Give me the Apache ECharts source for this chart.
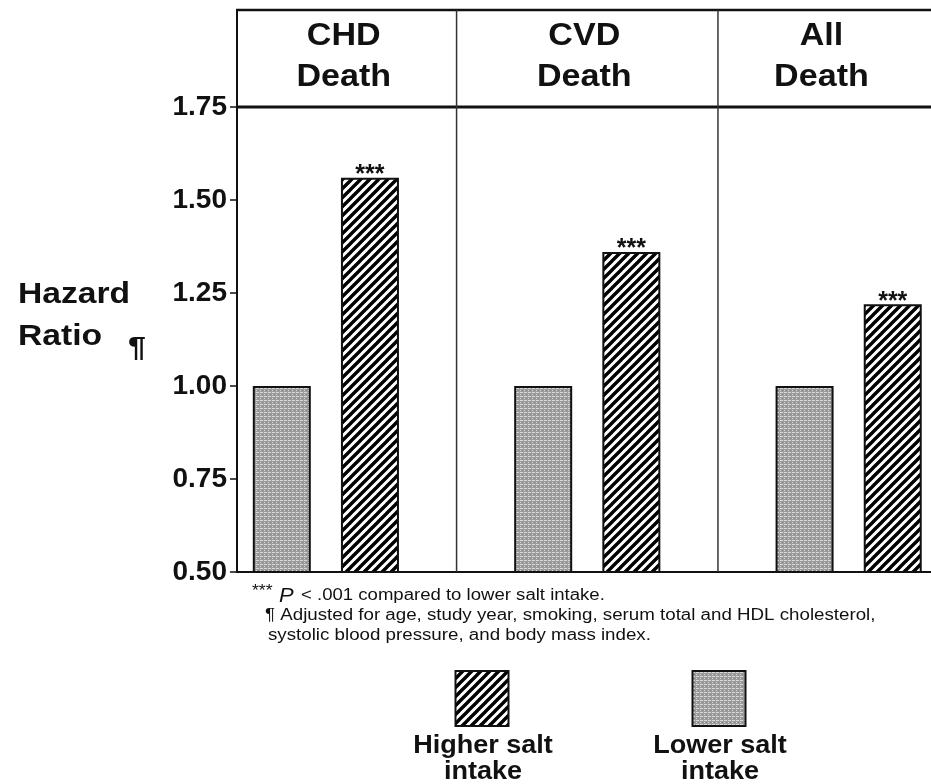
<!DOCTYPE html>
<html>
<head>
<meta charset="utf-8">
<script src="https://cdn.jsdelivr.net/npm/echarts@6/dist/echarts.min.js"></script>
<style>
  html, body { margin: 0; padding: 0; background: #fff; }
  #chart { width: 931px; height: 784px; }
</style>
</head>
<body>
<div id="chart"></div>
<script>
// ---- data ----
const categories = ['CHD\nDeath', 'CVD\nDeath', 'All\nDeath'];
const lowerSalt = [1.00, 1.00, 1.00];
const higherSalt = [1.56, 1.36, 1.22];
const significance = ['***', '***', '***'];
const yMin = 0.50, yMax = 1.75, yStep = 0.25;
const seriesNames = ['Lower salt intake', 'Higher salt intake'];
const legendLabels = ['Lower salt\nintake', 'Higher salt\nintake'];
const footnotes = [
  '< .001 compared to lower salt intake.',
  '\u00b6 Adjusted for age, study year, smoking, serum total and HDL cholesterol,',
  'systolic blood pressure, and body mass index.'
];

// ---- fill patterns ----
function hatchCanvas(period, lw) {
  const c = document.createElement('canvas');
  c.width = c.height = period;
  const g = c.getContext('2d');
  g.fillStyle = '#fff';
  g.fillRect(0, 0, period, period);
  g.strokeStyle = '#000';
  g.lineWidth = lw;
  g.beginPath();
  for (const o of [-period, 0, period]) {
    g.moveTo(o - 1, period + 1);
    g.lineTo(o + period + 1, -1);
  }
  g.stroke();
  return c;
}
function stippleCanvas() {
  const c = document.createElement('canvas');
  c.width = 4; c.height = 4;
  const g = c.getContext('2d');
  g.fillStyle = '#9c9c9c';
  g.fillRect(0, 0, 4, 4);
  g.fillStyle = '#d6d6d6';
  g.fillRect(0, 0, 3, 1);
  g.fillRect(0, 2, 1, 1);
  g.fillStyle = '#828282';
  g.fillRect(2, 2, 1, 1);
  return c;
}
const hatchFill = { image: hatchCanvas(9, 3.4), repeat: 'repeat' };
const stippleFill = { image: stippleCanvas(), repeat: 'repeat' };

const FONT = '"Liberation Sans", Arial, sans-serif';
const INK = '#111';

// groups sit at x = 0, 1, 2 on a numeric base axis; panels split at the midpoints
const xMin = -0.34, xMax = 2.315;
const panelSplits = [0.5, 1.5];

const chart = echarts.init(document.getElementById('chart'), null, { renderer: 'canvas' });

const option = {
  animation: false,
  backgroundColor: '#fff',
  grid: { left: 237, top: 107, width: 698, height: 465, containLabel: false },
  xAxis: {
    type: 'value',
    min: xMin,
    max: xMax,
    axisLine: { show: true, onZero: false, lineStyle: { color: INK, width: 2 } },
    axisTick: { show: false },
    axisLabel: { show: false },
    splitLine: { show: false }
  },
  yAxis: {
    type: 'value',
    min: yMin,
    max: yMax,
    interval: yStep,
    axisLine: { show: true, onZero: false, lineStyle: { color: INK, width: 2 } },
    axisTick: { show: true, length: 7, lineStyle: { color: INK, width: 1.5 } },
    axisLabel: {
      margin: 10,
      formatter: v => v.toFixed(2),
      fontFamily: FONT,
      fontWeight: 'bold',
      fontSize: 28,
      color: INK
    },
    splitLine: { show: false }
  },
  series: [
    {
      name: seriesNames[0],
      type: 'bar',
      data: lowerSalt.map((v, i) => [i, v]),
      barWidth: 58,
      barGap: '52%',
      itemStyle: { color: stippleFill, borderColor: INK, borderWidth: 2 },
      emphasis: { disabled: true }
    },
    {
      name: seriesNames[1],
      type: 'bar',
      data: higherSalt.map((v, i) => [i, v]),
      barWidth: 58,
      barGap: '52%',
      itemStyle: { color: hatchFill, borderColor: INK, borderWidth: 2 },
      emphasis: { disabled: true },
      label: {
        show: true,
        position: 'top',
        distance: 0,
        offset: [0, 10],
        formatter: p => significance[p.dataIndex],
        fontFamily: FONT,
        fontWeight: 'bold',
        fontSize: 25,
        color: INK
      }
    }
  ]
};
chart.setOption(option);

// ---- panel frame, axis title, footnotes and key ----
const px = v => chart.convertToPixel({ xAxisIndex: 0 }, v);
const py = v => chart.convertToPixel({ yAxisIndex: 0 }, v);
const left = px(xMin);
const right = px(xMax);
const headTop = 10;
const headBottom = py(yMax);
const bottom = py(yMin);
const edges = [left].concat(panelSplits.map(px), [right]);

const g = [];
const line = (x1, y1, x2, y2, w, c) => g.push({
  type: 'line', silent: true, z: 10,
  shape: { x1, y1, x2, y2 },
  style: { stroke: c || INK, lineWidth: w }
});
const text = (t, x, y, o) => g.push({
  type: 'text', silent: true, z: 10,
  x, y, scaleX: o.scaleX || 1,
  style: {
    text: t, x: 0, y: 0,
    textAlign: o.align || 'left',
    textVerticalAlign: 'middle',
    font: (o.style || 'normal') + ' ' + (o.weight || 'normal') + ' ' + o.size + 'px ' + FONT,
    fill: INK
  }
});

// header box and panel dividers
line(left - 1, headTop, right + 10, headTop, 2.5);
line(left - 1, headBottom, right + 10, headBottom, 3);
line(left, headTop, left, headBottom, 2);
panelSplits.forEach(s => line(px(s), headTop, px(s), bottom, 1.5, '#333'));
categories.forEach((c, i) => {
  const cx = (edges[i] + edges[i + 1]) / 2 - 3;
  const parts = c.split('\n');
  text(parts[0], cx, 36, { align: 'center', weight: 'bold', size: 31, scaleX: 1.1 });
  text(parts[1], cx, 77, { align: 'center', weight: 'bold', size: 31, scaleX: 1.1 });
});

// axis title
text('Hazard', 18, 295, { weight: 'bold', size: 29, scaleX: 1.16 });
text('Ratio', 18, 337, { weight: 'bold', size: 29, scaleX: 1.16 });
text('\u00b6', 128, 348, { weight: 'bold', size: 28, scaleX: 1.15 });

// footnotes
text('***', 252, 592, { size: 16, scaleX: 1.1 });
text('P', 279, 596, { style: 'italic', size: 20, scaleX: 1.1 });
text(footnotes[0], 301, 596, { size: 16, scaleX: 1.16 });
text(footnotes[1], 265, 616, { size: 16, scaleX: 1.17 });
text(footnotes[2], 268, 636, { size: 16, scaleX: 1.17 });

// key
const keys = [
  { fill: hatchFill, cx: 482, label: legendLabels[1] },
  { fill: stippleFill, cx: 719, label: legendLabels[0] }
];
keys.forEach(k => {
  g.push({
    type: 'rect', silent: true, z: 10,
    shape: { x: k.cx - 26.5, y: 671, width: 53, height: 55 },
    style: { fill: k.fill, stroke: INK, lineWidth: 2 }
  });
  const parts = k.label.split('\n');
  text(parts[0], k.cx + 1, 746, { align: 'center', weight: 'bold', size: 26, scaleX: 1.04 });
  text(parts[1], k.cx + 1, 772, { align: 'center', weight: 'bold', size: 26, scaleX: 1.04 });
});

chart.setOption({ graphic: g });
</script>
</body>
</html>
